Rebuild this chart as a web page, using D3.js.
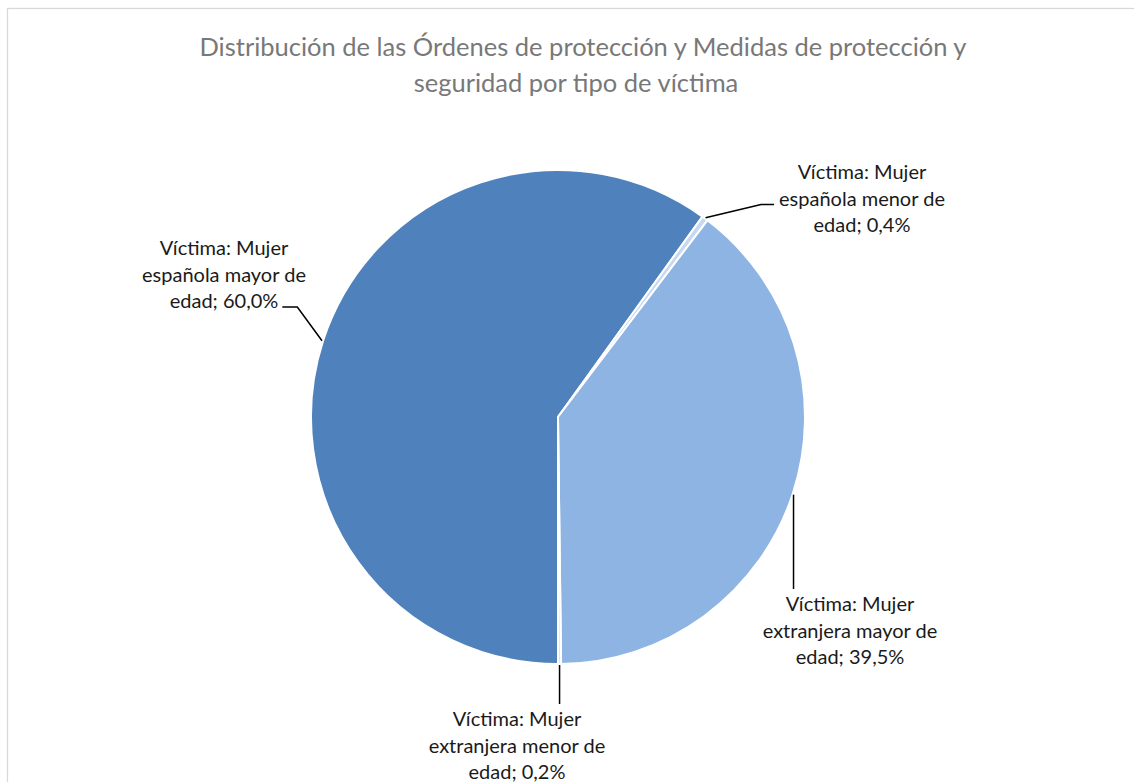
<!DOCTYPE html>
<html>
<head>
<meta charset="utf-8">
<script src="https://cdn.jsdelivr.net/npm/d3@7"></script>
<style>
  html, body { margin: 0; padding: 0; background: #fff; }
  svg { display: block; }
</style>
</head>
<body>
<svg id="chart" width="1134" height="782"></svg>
<script>
'use strict';

// data
var titleLines = [
  'Distribución de las Órdenes de protección y Medidas de protección y',
  'seguridad por tipo de víctima'
];
var categories = [
  'Víctima: Mujer española mayor de edad',
  'Víctima: Mujer española menor de edad',
  'Víctima: Mujer extranjera mayor de edad',
  'Víctima: Mujer extranjera menor de edad'
];
var values = [60.0, 0.4, 39.5, 0.2];

// look
var colors = ['#4f81bd', '#c6d9f1', '#8eb4e3', '#dce6f2'];
var cx = 558, cy = 417, radius = 247;
var fontFamily = 'Lato, "Open Sans", sans-serif';
var labelSize = 20, lineStep = 26.5, wrapWidth = 196;

// label block placement, relative to the pie centre (first baseline, centre x)
// attach: where the leader line meets the text
var labelLayout = [
  { dx: -334, dy: -162, attach: 'right', line: 2 },
  { dx: 304,  dy: -238, attach: 'left',  line: 1 },
  { dx: 292,  dy: 194,  attach: 'top' },
  { dx: -41,  dy: 309,  attach: 'top' }
];

var locale = d3.formatLocale({ decimal: ',', thousands: '.', grouping: [3], currency: ['', '€'] });
var pct = locale.format('.1f');

var svg = d3.select('#chart');

svg.append('rect')
  .attr('x', 7.5).attr('y', 8.5)
  .attr('width', 1300).attr('height', 1000)
  .attr('fill', '#fff')
  .attr('stroke', '#d9d9d9')
  .attr('stroke-width', 1.3);

svg.append('text')
  .attr('text-anchor', 'middle')
  .attr('font-family', fontFamily)
  .attr('font-size', 25.5)
  .attr('fill', '#787878')
  .selectAll('tspan')
  .data(titleLines)
  .enter().append('tspan')
    .attr('x', function(d, i) { return i === 0 ? 583 : 576; })
    .attr('y', function(d, i) { return 56 + i * 36; })
    .text(function(d) { return d; });

var pie = d3.pie()
  .sort(null)
  .value(function(d) { return d; })
  .startAngle(Math.PI)
  .endAngle(Math.PI * 3);

var arc = d3.arc()
  .innerRadius(0)
  .outerRadius(radius);

var arcs = pie(values);

var gPie = svg.append('g')
  .attr('transform', 'translate(' + cx + ',' + cy + ')');

gPie.selectAll('path')
  .data(arcs)
  .enter().append('path')
    .attr('d', arc)
    .attr('fill', function(d, i) { return colors[i]; })
    .attr('stroke', '#fff')
    .attr('stroke-width', 2)
    .attr('stroke-linejoin', 'round');

// labels
var gLabels = svg.append('g')
  .attr('font-family', fontFamily)
  .attr('font-size', labelSize)
  .attr('fill', '#1a1a1a')
  .attr('text-anchor', 'middle');

var measurer = svg.append('text')
  .attr('font-family', fontFamily)
  .attr('font-size', labelSize);

function textWidth(s) {
  measurer.text(s);
  return measurer.node().getComputedTextLength();
}

function wrap(s) {
  var words = s.split(' '), lines = [], cur = '';
  words.forEach(function(w) {
    var next = cur ? cur + ' ' + w : w;
    if (cur && textWidth(next) > wrapWidth) {
      lines.push(cur);
      cur = w;
    } else {
      cur = next;
    }
  });
  lines.push(cur);
  return lines;
}

var gLeaders = svg.append('g')
  .attr('fill', 'none')
  .attr('stroke', '#000')
  .attr('stroke-width', 1.5);

arcs.forEach(function(a, i) {
  var lay = labelLayout[i];
  var lx = cx + lay.dx, ly = cy + lay.dy;
  var lines = wrap(categories[i] + '; ' + pct(values[i]) + '%');

  gLabels.append('text')
    .selectAll('tspan')
    .data(lines)
    .enter().append('tspan')
      .attr('x', lx)
      .attr('y', function(d, j) { return ly + j * lineStep; })
      .text(function(d) { return d; });

  var mid = (a.startAngle + a.endAngle) / 2;
  var p = d3.pointRadial(mid, radius + 1);
  var start = [cx + p[0], cy + p[1]];
  var pts;

  if (lay.attach === 'top') {
    pts = [start, [start[0], ly - 22]];
  } else if (lay.attach === 'left') {
    var wl = textWidth(lines[lay.line]);
    var yl = ly + lay.line * lineStep - 1;
    var xl = lx - wl / 2 - 5;
    pts = [start, [xl - 13, yl], [xl, yl]];
  } else {
    var wr = textWidth(lines[lay.line]);
    var yr = ly + lay.line * lineStep - 1;
    var xr = lx + wr / 2 + 4;
    pts = [start, [xr + 15, yr], [xr, yr]];
  }

  gLeaders.append('path')
    .attr('d', d3.line()(pts));
});

measurer.remove();
</script>
</body>
</html>
